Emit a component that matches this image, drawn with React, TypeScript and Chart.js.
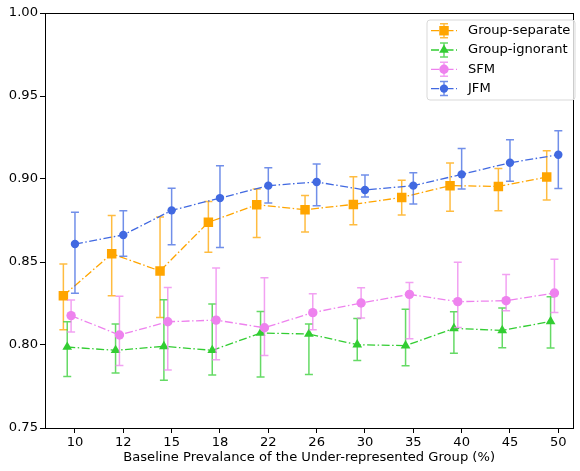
import React, { useEffect, useRef } from 'react';
import { Chart, registerables } from 'chart.js';

Chart.register(...registerables);

const xLabels = ['10', '12', '15', '18', '22', '26', '30', '35', '40', '45', '50'];

const sepMean = [0.8297, 0.855, 0.8446, 0.8739, 0.8845, 0.8815, 0.8847, 0.8889, 0.896, 0.8955, 0.9012];
const sepLo = [0.8092, 0.8297, 0.8166, 0.8558, 0.8648, 0.8681, 0.8725, 0.8783, 0.8805, 0.8809, 0.8873];
const sepHi = [0.8488, 0.878, 0.8771, 0.8865, 0.894, 0.8901, 0.9014, 0.8992, 0.9096, 0.9064, 0.917];

const ignMean = [0.7988, 0.7968, 0.7992, 0.7968, 0.8072, 0.8066, 0.8002, 0.7996, 0.81, 0.8088, 0.8142];
const ignLo = [0.781, 0.7831, 0.7787, 0.7819, 0.7807, 0.7823, 0.7907, 0.7875, 0.795, 0.7984, 0.7982];
const ignHi = [0.814, 0.8127, 0.8273, 0.8247, 0.8202, 0.8127, 0.816, 0.8215, 0.82, 0.8223, 0.8291];

const sfmMean = [0.8177, 0.806, 0.814, 0.815, 0.8104, 0.8195, 0.8253, 0.8305, 0.8261, 0.8267, 0.8313];
const sfmLo = [0.8078, 0.7877, 0.785, 0.7911, 0.7936, 0.8092, 0.8163, 0.8038, 0.8106, 0.8207, 0.8196];
const sfmHi = [0.8271, 0.8293, 0.8347, 0.8464, 0.8405, 0.8309, 0.8345, 0.8377, 0.8498, 0.8425, 0.8516];

const jfmMean = [0.8608, 0.8663, 0.8811, 0.8885, 0.896, 0.8982, 0.8934, 0.896, 0.9028, 0.9098, 0.9146];
const jfmLo = [0.8311, 0.8534, 0.8604, 0.8588, 0.8855, 0.8839, 0.8892, 0.8849, 0.894, 0.8986, 0.8943];
const jfmHi = [0.8799, 0.8809, 0.8944, 0.908, 0.9068, 0.909, 0.9024, 0.9038, 0.9184, 0.9237, 0.9291];

const yTicks = [0.75, 0.8, 0.85, 0.9, 0.95, 1.0];

const FONT = 'DejaVu Sans';
const FS = 13.1;
const DASH = [8, 2.5, 1.5, 2.5];

type SeriesDef = {
  label: string;
  mean: number[];
  lo: number[];
  hi: number[];
  color: string;
  errColor: string;
  style: string;
  radius: number;
  shift: number;
};

const series: SeriesDef[] = [
  { label: 'Group-separate', mean: sepMean, lo: sepLo, hi: sepHi, color: '#FFA500', errColor: 'rgba(255,165,0,0.75)', style: 'rect', radius: 6.7, shift: -0.24 },
  { label: 'Group-ignorant', mean: ignMean, lo: ignLo, hi: ignHi, color: '#32CD32', errColor: 'rgba(50,205,50,0.75)', style: 'triangle', radius: 5.6, shift: -0.16 },
  { label: 'SFM', mean: sfmMean, lo: sfmLo, hi: sfmHi, color: '#EE82EE', errColor: 'rgba(238,130,238,0.75)', style: 'circle', radius: 4.7, shift: -0.08 },
  { label: 'JFM', mean: jfmMean, lo: jfmLo, hi: jfmHi, color: '#4169E1', errColor: 'rgba(65,105,225,0.75)', style: 'circle', radius: 4.2, shift: 0 },
];

function drawMarker(ctx: CanvasRenderingContext2D, style: string, x: number, y: number, r: number, color: string) {
  ctx.save();
  ctx.fillStyle = color;
  ctx.beginPath();
  if (style === 'rect') {
    const s = r * Math.SQRT1_2;
    ctx.rect(x - s, y - s, 2 * s, 2 * s);
  } else if (style === 'triangle') {
    ctx.moveTo(x, y - r);
    ctx.lineTo(x + r * Math.sin((2 * Math.PI) / 3), y - r * Math.cos((2 * Math.PI) / 3));
    ctx.lineTo(x + r * Math.sin((4 * Math.PI) / 3), y - r * Math.cos((4 * Math.PI) / 3));
    ctx.closePath();
  } else {
    ctx.arc(x, y, r, 0, Math.PI * 2);
  }
  ctx.fill();
  ctx.restore();
}

const errorBarPlugin = {
  id: 'errorBars',
  beforeDatasetDraw(chart: any, args: any) {
    const ds = chart.data.datasets[args.index];
    const meta = args.meta;
    const ys = chart.scales.y;
    const ctx = chart.ctx as CanvasRenderingContext2D;
    ctx.save();
    ctx.strokeStyle = ds.errColor;
    ctx.lineWidth = 1.5;
    ctx.setLineDash([]);
    meta.data.forEach((pt: any, i: number) => {
      const x = pt.x;
      const yLo = ys.getPixelForValue(ds.errLo[i]);
      const yHi = ys.getPixelForValue(ds.errHi[i]);
      ctx.beginPath();
      ctx.moveTo(x, yLo);
      ctx.lineTo(x, yHi);
      ctx.moveTo(x - 4, yLo);
      ctx.lineTo(x + 4, yLo);
      ctx.moveTo(x - 4, yHi);
      ctx.lineTo(x + 4, yHi);
      ctx.stroke();
    });
    ctx.restore();
  },
};

const framePlugin = {
  id: 'frame',
  afterDatasetsDraw(chart: any) {
    const { left, top, right, bottom } = chart.chartArea;
    const ctx = chart.ctx as CanvasRenderingContext2D;
    ctx.save();
    ctx.strokeStyle = '#000';
    ctx.lineWidth = 1;
    ctx.strokeRect(Math.round(left) + 0.5, Math.round(top) + 0.5, Math.round(right - left), Math.round(bottom - top));
    ctx.restore();
  },
};

const legendPlugin = {
  id: 'customLegend',
  afterDraw(chart: any) {
    const ctx = chart.ctx as CanvasRenderingContext2D;
    const x0 = 427, y0 = 20, w = 148, h = 80;
    ctx.save();
    ctx.beginPath();
    const r = 3;
    ctx.moveTo(x0 + r, y0);
    ctx.lineTo(x0 + w - r, y0);
    ctx.quadraticCurveTo(x0 + w, y0, x0 + w, y0 + r);
    ctx.lineTo(x0 + w, y0 + h - r);
    ctx.quadraticCurveTo(x0 + w, y0 + h, x0 + w - r, y0 + h);
    ctx.lineTo(x0 + r, y0 + h);
    ctx.quadraticCurveTo(x0, y0 + h, x0, y0 + h - r);
    ctx.lineTo(x0, y0 + r);
    ctx.quadraticCurveTo(x0, y0, x0 + r, y0);
    ctx.closePath();
    ctx.fillStyle = 'rgba(255,255,255,0.8)';
    ctx.fill();
    ctx.strokeStyle = '#d9d9d9';
    ctx.lineWidth = 1;
    ctx.stroke();

    series.forEach((s, i) => {
      const cy = 30.7 + i * 19.3;
      ctx.strokeStyle = s.color;
      ctx.lineWidth = 1.3;
      ctx.setLineDash(DASH);
      ctx.beginPath();
      ctx.moveTo(431, cy);
      ctx.lineTo(457, cy);
      ctx.stroke();
      ctx.setLineDash([]);
      ctx.strokeStyle = s.errColor;
      ctx.lineWidth = 1.5;
      ctx.beginPath();
      ctx.moveTo(444, cy - 7);
      ctx.lineTo(444, cy + 7);
      ctx.moveTo(440, cy - 7);
      ctx.lineTo(448, cy - 7);
      ctx.moveTo(440, cy + 7);
      ctx.lineTo(448, cy + 7);
      ctx.stroke();
      drawMarker(ctx, s.style, 444, cy, s.radius, s.color);
      ctx.fillStyle = '#000';
      ctx.font = `${FS}px "${FONT}"`;
      ctx.textBaseline = 'middle';
      ctx.textAlign = 'left';
      ctx.fillText(s.label, 468, cy);
    });
    ctx.restore();
  },
};

export default function App() {
  const canvasRef = useRef<HTMLCanvasElement | null>(null);

  useEffect(() => {
    if (!canvasRef.current) return;
    const datasets = series.map((s, si) => ({
      label: s.label,
      data: s.mean.map((v, i) => ({ x: i + s.shift, y: v })),
      errLo: s.lo,
      errHi: s.hi,
      errColor: s.errColor,
      borderColor: s.color,
      backgroundColor: s.color,
      borderWidth: 1.3,
      borderDash: DASH,
      pointStyle: s.style,
      pointRadius: s.radius,
      pointBorderWidth: 0,
      pointBackgroundColor: s.color,
      pointBorderColor: s.color,
      showLine: true,
      fill: false,
      tension: 0,
      order: series.length - si,
    }));

    const chart = new Chart(canvasRef.current, {
      type: 'scatter',
      data: { datasets } as any,
      plugins: [errorBarPlugin, framePlugin, legendPlugin],
      options: {
        animation: false,
        responsive: true,
        maintainAspectRatio: false,
        layout: { padding: { top: 13, right: 2, left: 0, bottom: 0 } },
        plugins: { legend: { display: false }, tooltip: { enabled: false } },
        scales: {
          x: {
            type: 'linear',
            min: -0.62,
            max: 10.31,
            afterFit: (s: any) => { s.height = 43; },
            afterBuildTicks: (s: any) => { s.ticks = xLabels.map((_, i) => ({ value: i })); },
            ticks: {
              autoSkip: false,
              maxRotation: 0,
              padding: 2,
              color: '#000',
              font: { family: FONT, size: FS },
              callback: (v: any) => xLabels[Math.round(Number(v))] ?? '',
            },
            grid: { display: true, drawOnChartArea: false, drawTicks: true, tickLength: 5, tickColor: '#000', tickWidth: 1 },
            border: { display: true, color: '#000', width: 1 },
            title: {
              display: true,
              text: 'Baseline Prevalance of the Under-represented Group (%)',
              color: '#000',
              font: { family: FONT, size: FS },
              padding: { top: 0, bottom: 6 },
            },
          },
          y: {
            type: 'linear',
            min: 0.75,
            max: 1.0,
            afterFit: (s: any) => { s.width = 45; },
            afterBuildTicks: (s: any) => { s.ticks = yTicks.map((v) => ({ value: v })); },
            ticks: {
              padding: 2,
              color: '#000',
              font: { family: FONT, size: FS },
              callback: (v: any) => Number(v).toFixed(2),
            },
            grid: { display: true, drawOnChartArea: false, drawTicks: true, tickLength: 5, tickColor: '#000', tickWidth: 1 },
            border: { display: true, color: '#000', width: 1 },
          },
        },
      } as any,
    });
    return () => chart.destroy();
  }, []);

  return (
    <div style={{ position: 'fixed', left: 0, top: 0, width: 580, height: 471, background: '#fff' }}>
      <canvas ref={canvasRef} />
    </div>
  );
}
